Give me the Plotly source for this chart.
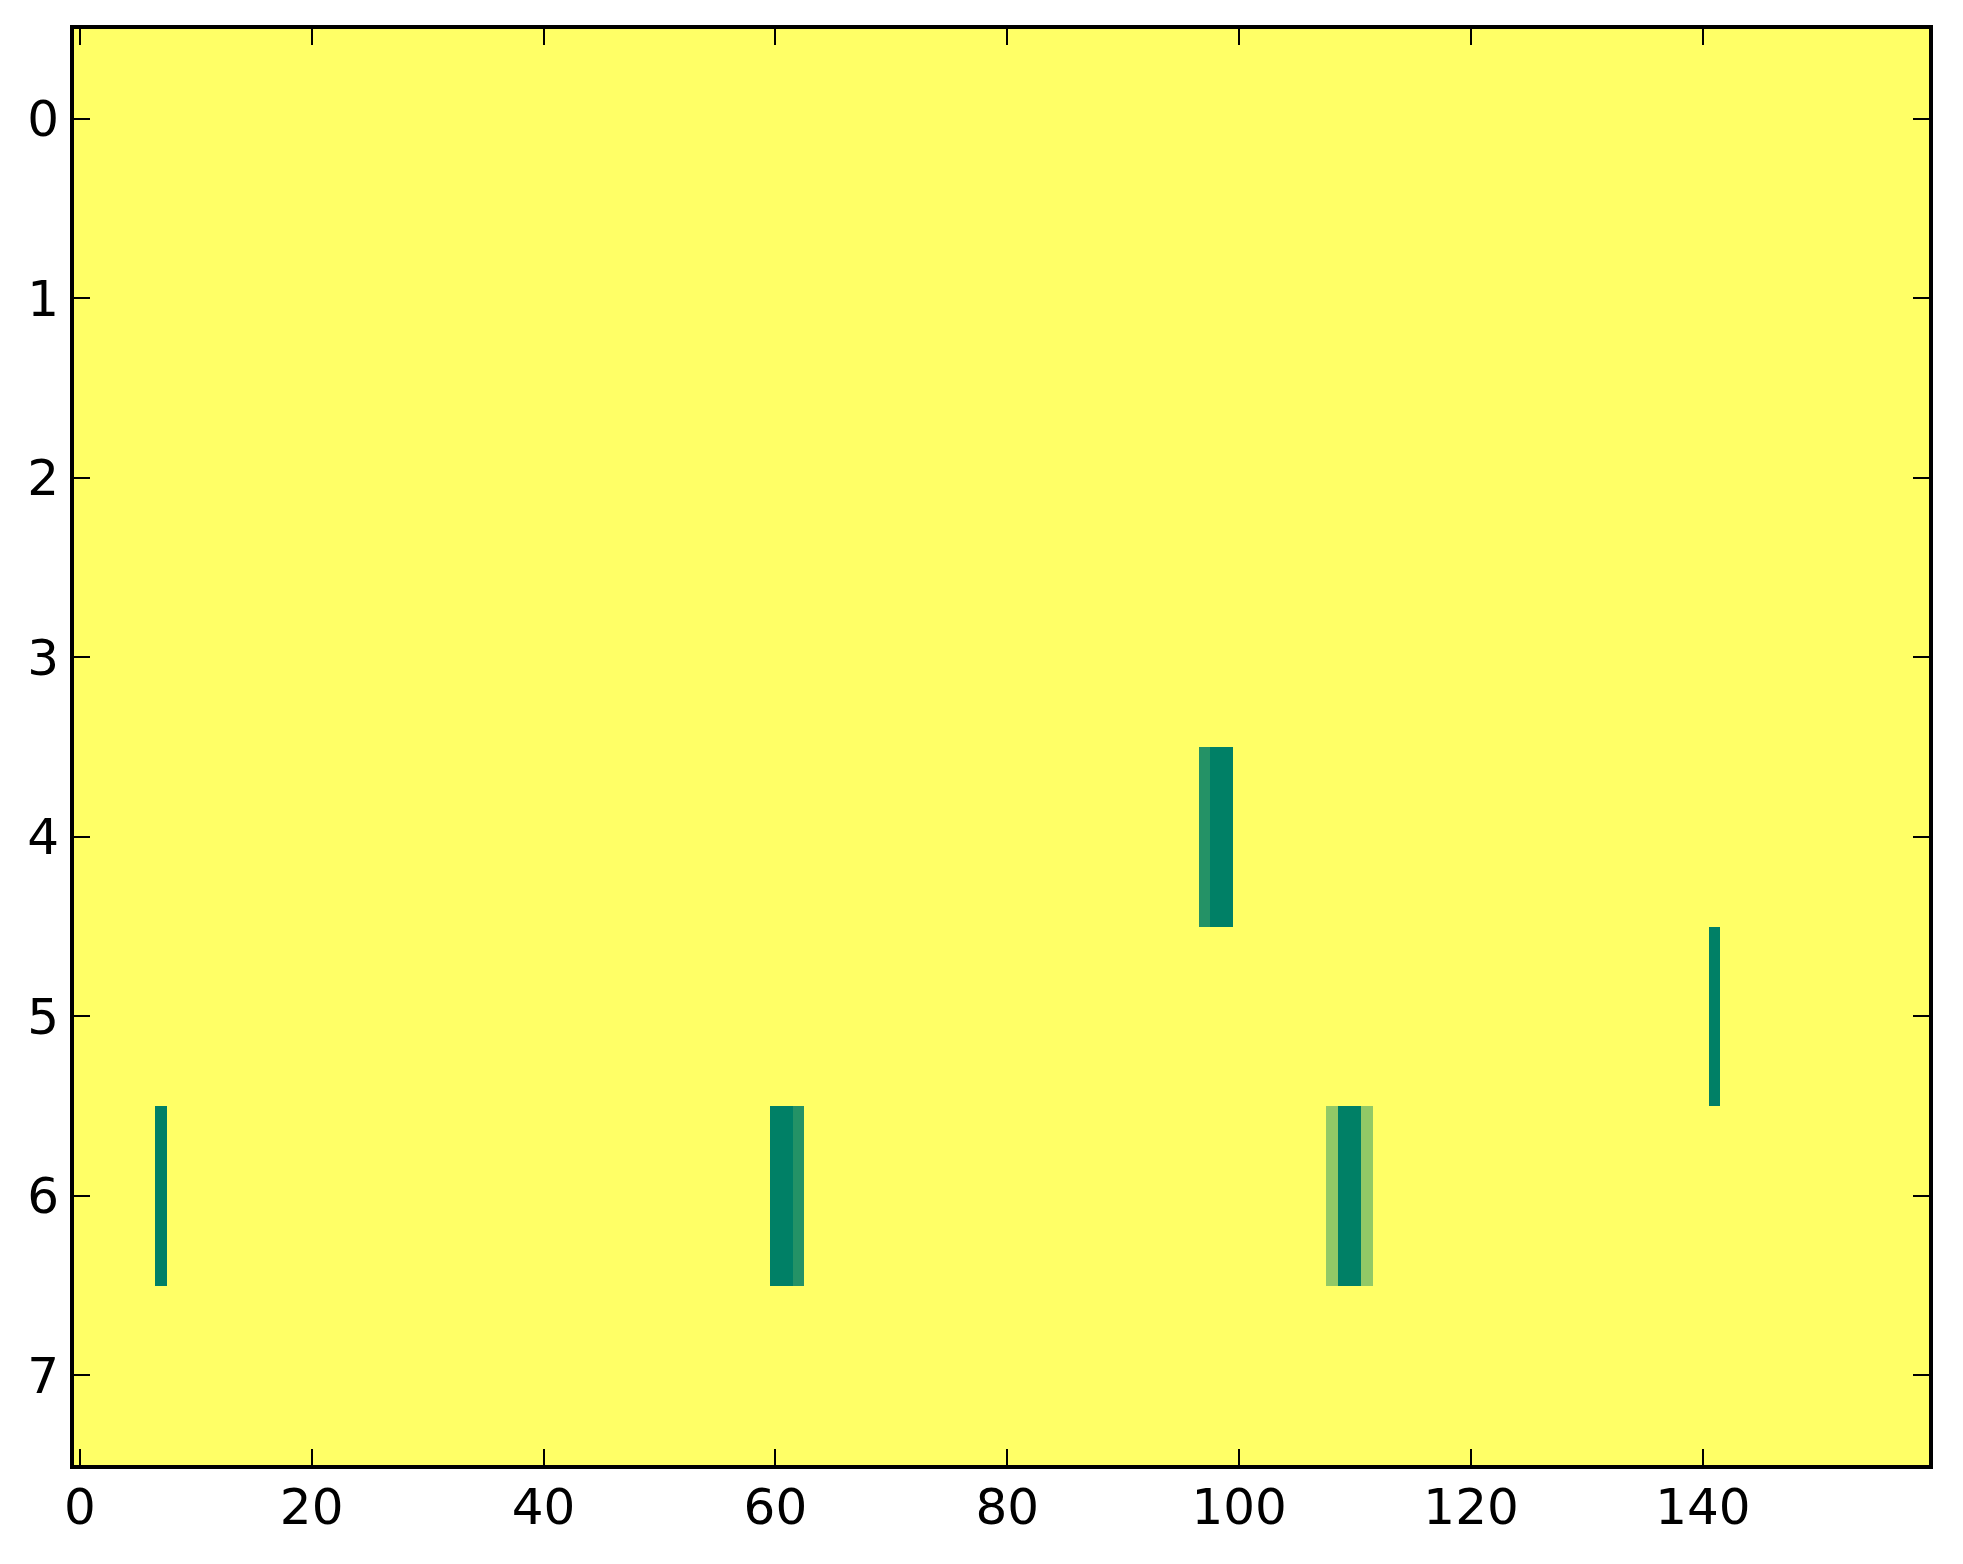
import plotly.graph_objects as go

n_rows = 8
n_cols = 160
# (row, column, value) of the non-zero cells
cell_rows = [4, 4, 4, 5, 6, 6, 6, 6, 6, 6, 6, 6]
cell_cols = [97, 98, 99, 141, 7, 60, 61, 62, 108, 109, 110, 111]
cell_vals = [6, 7, 7, 7, 7, 7, 7, 6, 3, 7, 7, 3]

x_ticks = [0, 20, 40, 60, 80, 100, 120, 140]
y_ticks = [0, 1, 2, 3, 4, 5, 6, 7]

z = [[0] * n_cols for _ in range(n_rows)]
for r, c, v in zip(cell_rows, cell_cols, cell_vals):
    z[r][c] = v

fig = go.Figure(go.Heatmap(
    z=z,
    x=list(range(n_cols)),
    y=list(range(n_rows)),
    zmin=0, zmax=7,
    colorscale=[[0, "rgb(255,255,102)"], [1, "rgb(0,128,102)"]],
    showscale=False,
    hoverinfo="skip",
))

axis_common = dict(
    showline=True, linecolor="black", linewidth=4, mirror="ticks",
    ticks="inside", ticklen=16, tickwidth=2, tickcolor="black",
    showgrid=False, zeroline=False,
    tickfont=dict(family="DejaVu Sans", size=50, color="black"),
)

fig.update_layout(
    width=1955, height=1556,
    margin=dict(l=66, r=34, t=21, b=99),
    paper_bgcolor="white", plot_bgcolor="white",
    xaxis=dict(range=[-0.5, n_cols - 0.5], tickvals=x_ticks, ticklabelstandoff=-5, **axis_common),
    yaxis=dict(range=[n_rows - 0.5, -0.5], tickvals=y_ticks, ticklabelstandoff=1, **axis_common),
)

fig.write_html("out.html")
